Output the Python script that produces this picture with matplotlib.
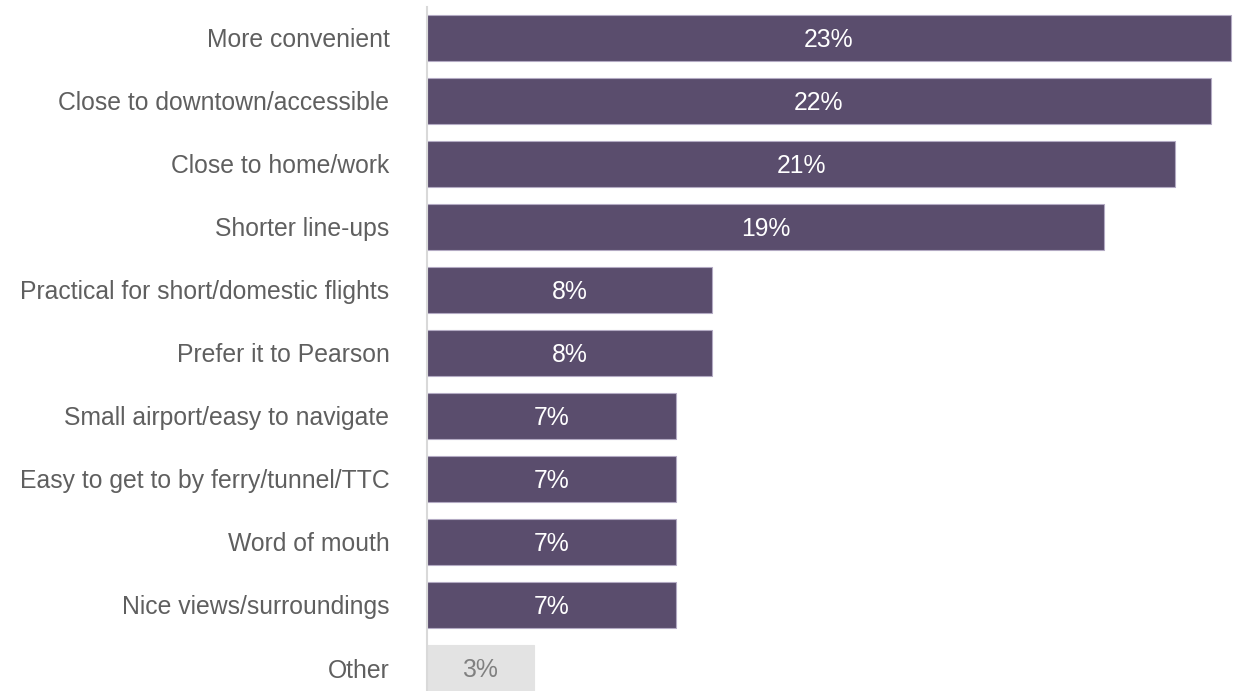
import matplotlib
matplotlib.use('Agg')
from matplotlib import pyplot as plt
from matplotlib import font_manager as fm

categories = ['More convenient', 'Close to downtown/accessible', 'Close to home/work',
              'Shorter line-ups', 'Practical for short/domestic flights', 'Prefer it to Pearson',
              'Small airport/easy to navigate', 'Easy to get to by ferry/tunnel/TTC',
              'Word of mouth', 'Nice views/surroundings', 'Other']
values = [22.55, 22.0, 21.0, 19.0, 8.0, 8.0, 7.0, 7.0, 7.0, 7.0, 3.0]
value_labels = ['23%', '22%', '21%', '19%', '8%', '8%', '7%', '7%', '7%', '7%', '3%']

# regular Liberation Sans (not the Narrow one)
font_path = None
for f in fm.fontManager.ttflist:
    if f.name == 'Liberation Sans' and f.weight in (400, 'normal', 'regular') \
            and f.style == 'normal' and 'Narrow' not in f.fname:
        font_path = f.fname
        break
if font_path:
    fp = fm.FontProperties(fname=font_path, size=17.8)
else:
    fp = fm.FontProperties(family='Liberation Sans', size=17.8)

fig = plt.figure(figsize=(12.33, 6.91), dpi=100)
ax = fig.add_axes([427 / 1233, 0, 1 - 427 / 1233, 1 - 7 / 691])

purple = '#5a4d6d'
colors = [purple] * (len(values) - 1) + ['#e3e3e3']
edges = ['#b3aac3'] * (len(values) - 1) + ['#e3e3e3']
ypos = range(len(values))
ax.barh(ypos, values, height=0.73, color=colors, edgecolor=edges, linewidth=0.8)

for i, (v, lab) in enumerate(zip(values, value_labels)):
    tc = 'white' if i < len(values) - 1 else '#808080'
    ax.text(v / 2, i + 0.03, lab, ha='center', va='center', color=tc, fontproperties=fp)

ax.set_xlim(0, 22.62)
ax.set_ylim(10.365, -0.49)
ax.set_yticks(list(ypos))
ax.set_yticklabels(categories, color='#5f5f5f', fontproperties=fp)
ax.tick_params(axis='y', length=0, pad=27)
ax.set_xticks([])
for s in ['top', 'right', 'bottom']:
    ax.spines[s].set_visible(False)
ax.spines['left'].set_color('#d9d9d9')
ax.spines['left'].set_linewidth(1.5)

plt.savefig('out.png', dpi=100)
